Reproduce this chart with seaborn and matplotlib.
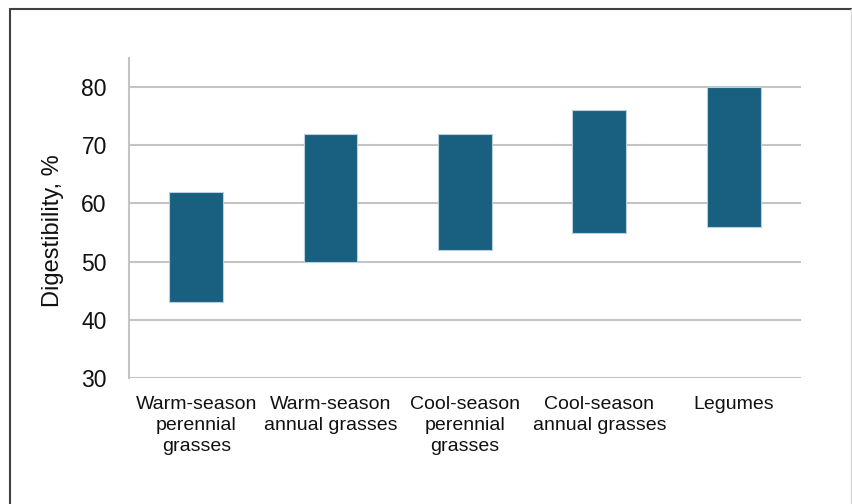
import matplotlib
matplotlib.use("Agg")
import matplotlib.pyplot as plt
from matplotlib.lines import Line2D
import pandas as pd
import seaborn as sns

categories = [
    "Warm-season\nperennial\ngrasses",
    "Warm-season\nannual grasses",
    "Cool-season\nperennial\ngrasses",
    "Cool-season\nannual grasses",
    "Legumes",
]
low = [43, 50, 52, 55, 56]
high = [62, 72, 72, 76, 80]
y_ticks = [30, 40, 50, 60, 70, 80]

df = pd.DataFrame({"forage": categories, "low": low, "high": high})
df["span"] = df["high"] - df["low"]

sns.set_theme(style="white")
plt.rcParams["font.family"] = ["Liberation Sans", "DejaVu Sans"]

fig = plt.figure(figsize=(8.52, 5.04), dpi=100)
ax = fig.add_axes([0.1514, 0.25, 0.7887, 0.635])

sns.barplot(data=df, x="forage", y="span", bottom=df["low"], ax=ax,
            color="#185f80", saturation=1, width=0.4,
            edgecolor="#b9cfdc", linewidth=0.8, zorder=3)

ax.set_ylim(30, 85)
ax.set_yticks(y_ticks)
ax.set_xlim(-0.5, len(categories) - 0.5)
ax.yaxis.grid(True, color="#c4c4c4", linewidth=1.5, zorder=0)
ax.set_axisbelow(True)
for side in ["top", "right", "bottom"]:
    ax.spines[side].set_visible(False)
ax.spines["left"].set_color("#c4c4c4")
ax.spines["left"].set_linewidth(1.5)

ax.tick_params(axis="y", length=0, pad=16, labelsize=16.5, labelcolor="#111111")
ax.tick_params(axis="x", length=0, pad=13, labelsize=14, labelcolor="#111111")
for lbl in ax.get_xticklabels():
    lbl.set_linespacing(1.32)
ax.set_xlabel("")
ax.set_ylabel("Digestibility, %", fontsize=17, color="#111111")
ax.yaxis.set_label_coords(-0.097, 0.46)

# frame around the figure
fig.add_artist(Line2D([10 / 852, 10 / 852], [0, 1 - 9 / 504],
                      transform=fig.transFigure, color="#404040", linewidth=1.5))
fig.add_artist(Line2D([10 / 852, 1], [1 - 9 / 504, 1 - 9 / 504],
                      transform=fig.transFigure, color="#404040", linewidth=1.5))
fig.add_artist(Line2D([851 / 852, 851 / 852], [0, 1 - 9 / 504],
                      transform=fig.transFigure, color="#d9d9d9", linewidth=1.0))

fig.savefig("out.png", dpi=100, facecolor="white")
